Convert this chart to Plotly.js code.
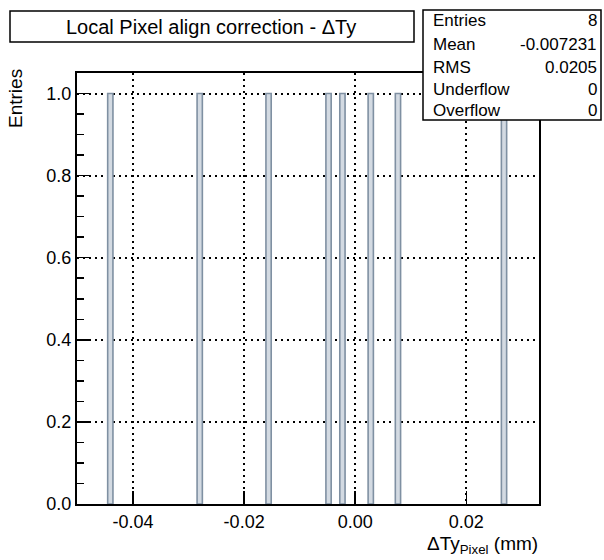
<!DOCTYPE html>
<html>
<head>
<meta charset="utf-8">
<script src="https://cdn.plot.ly/plotly-3.0.1.min.js"></script>
<style>html,body{margin:0;padding:0;background:#fff;}</style>
</head>
<body>
<div id="chart" style="width:604px;height:560px;"></div>
<script>
// Data: bin centres (mm) and entries
const binCenters = [-0.0441, -0.0280, -0.0156, -0.0048, -0.0023, 0.0028, 0.0077, 0.0268];
const entries    = [1, 1, 1, 1, 1, 1, 1, 1];
const xTickVals  = [-0.04, -0.02, 0.00, 0.02];
const xTickText  = ["-0.04", "-0.02", "0.00", "0.02"];
const yTickVals  = [0.0, 0.2, 0.4, 0.6, 0.8, 1.0];
const yTickText  = ["0.0", "0.2", "0.4", "0.6", "0.8", "1.0"];
const statLabels = ["Entries", "Mean", "RMS", "Underflow", "Overflow"];
const statValues = ["8", "-0.007231", "0.0205", "0", "0"];
const titleText  = "Local Pixel align correction - \u0394Ty";
const xTitle     = "\u0394Ty<sub>Pixel</sub> (mm)";
const yTitle     = "Entries";

const font = "Liberation Sans, Arial, Helvetica, sans-serif";
const W = 604, H = 560;
const L = 77, R = 539, T = 73, B = 504;
const px = (x) => (x - L) / (R - L);
const py = (y) => (B - y) / (B - T);

const trace = {
  type: 'bar',
  x: binCenters,
  y: entries,
  width: binCenters.map(() => 0.00095),
  marker: {
    color: '#d3dae2',
    line: {color: '#7f90a2', width: 1.6}
  },
  hoverinfo: 'skip'
};

const annotations = [];
// title
annotations.push({
  xref: 'paper', yref: 'paper', x: px(211), y: py(27),
  xanchor: 'center', yanchor: 'middle', showarrow: false,
  text: titleText, font: {family: font, size: 20, color: '#000'}
});
// stats
const rowY = [21, 44, 67, 89, 110];
statLabels.forEach((lab, i) => {
  annotations.push({
    xref: 'paper', yref: 'paper', x: px(431), y: py(rowY[i]),
    xanchor: 'left', yanchor: 'middle', showarrow: false,
    text: lab, font: {family: font, size: 17, color: '#000'}
  });
  annotations.push({
    xref: 'paper', yref: 'paper', x: px(599), y: py(rowY[i]),
    xanchor: 'right', yanchor: 'middle', showarrow: false,
    text: statValues[i], font: {family: font, size: 17, color: '#000'}
  });
});
// axis titles
annotations.push({
  xref: 'paper', yref: 'paper', x: px(540), y: py(545),
  xanchor: 'right', yanchor: 'middle', showarrow: false,
  text: xTitle, font: {family: font, size: 19, color: '#000'}
});
annotations.push({
  xref: 'paper', yref: 'paper', x: px(15), y: py(99),
  xanchor: 'center', yanchor: 'middle', showarrow: false, textangle: -90,
  text: yTitle, font: {family: font, size: 19, color: '#000'}
});

const shapes = [
  {type: 'rect', xref: 'paper', yref: 'paper', x0: px(10), x1: px(414), y0: py(11), y1: py(42),
   line: {color: '#000', width: 1.5}, fillcolor: '#fff', layer: 'above'},
  {type: 'rect', xref: 'paper', yref: 'paper', x0: px(423), x1: px(601), y0: py(10), y1: py(120),
   line: {color: '#000', width: 1.5}, fillcolor: '#fff', layer: 'above'}
];

const layout = {
  width: W, height: H,
  margin: {l: L, r: W - R, t: T, b: H - B, pad: 0},
  paper_bgcolor: '#fff', plot_bgcolor: '#fff',
  showlegend: false,
  bargap: 0,
  xaxis: {
    range: [-0.0501, 0.0331],
    tickvals: xTickVals, ticktext: xTickText,
    ticks: 'inside', ticklen: 13, tickwidth: 1.5, tickcolor: '#000',
    showgrid: true, gridcolor: '#000', gridwidth: 2, griddash: '2px,4px',
    zeroline: false,
    showline: true, linecolor: '#000', linewidth: 2, mirror: true,
    tickfont: {family: font, size: 18, color: '#000'},
    fixedrange: true
  },
  yaxis: {
    range: [0, 1.05],
    tickvals: yTickVals, ticktext: yTickText,
    ticks: 'inside', ticklen: 14, tickwidth: 1.5, tickcolor: '#000',
    minor: {dtick: 0.05, ticks: 'inside', ticklen: 7, tickwidth: 1.5, tickcolor: '#000', showgrid: false},
    showgrid: true, gridcolor: '#000', gridwidth: 2, griddash: '2px,4px',
    zeroline: false,
    showline: true, linecolor: '#000', linewidth: 2, mirror: true,
    tickfont: {family: font, size: 18, color: '#000'},
    fixedrange: true
  },
  annotations: annotations,
  shapes: shapes
};

Plotly.newPlot('chart', [trace], layout, {displayModeBar: false, staticPlot: true});
</script>
</body>
</html>
